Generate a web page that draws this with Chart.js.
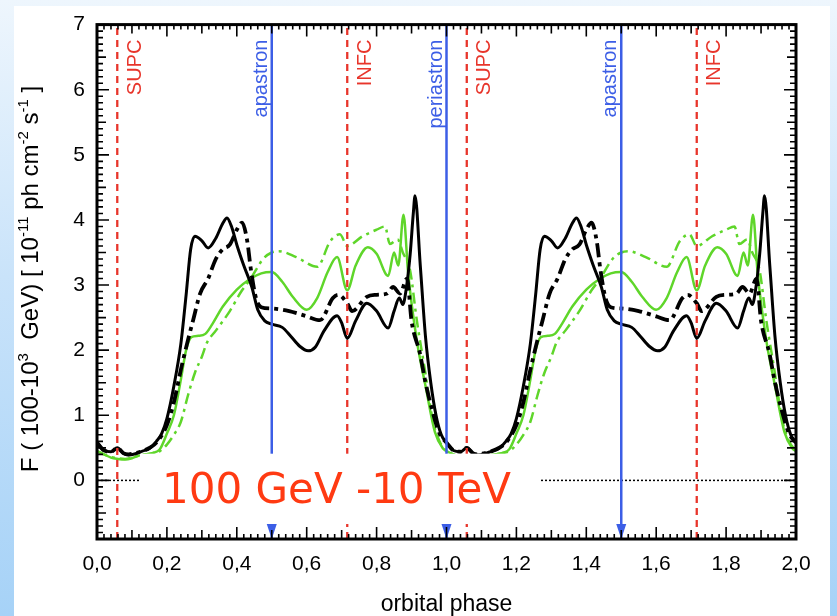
<!DOCTYPE html>
<html>
<head>
<meta charset="utf-8">
<script src="https://cdn.jsdelivr.net/npm/chart.js@4.4.1/dist/chart.umd.min.js"></script>
<style>
  html, body { margin: 0; padding: 0; }
  body { width: 837px; height: 616px; overflow: hidden; position: relative;
         background: linear-gradient(to bottom, #eef6fd 0%, #c9e3fa 45%, #a6d2f7 100%); }
  #panel { position: absolute; left: 14px; top: 6px; width: 816px; height: 610px; background: #fff; }
  #c { position: absolute; left: 0; top: 0; }
</style>
</head>
<body>
<div id="panel"></div>
<canvas id="c" width="837" height="616"></canvas>
<script>
// one orbit, [phase, flux in 1e-11 ph cm-2 s-1]; the plot shows it twice (0-2)
const blackSolid = [[0.00,0.58],[0.02,0.46],[0.04,0.44],[0.058,0.50],[0.075,0.42],[0.09,0.39],[0.11,0.41],[0.13,0.45],[0.15,0.49],[0.17,0.60],[0.185,0.72],[0.20,0.95],[0.22,1.45],[0.24,2.1],[0.255,2.85],[0.268,3.55],[0.28,3.75],[0.30,3.68],[0.318,3.57],[0.34,3.72],[0.36,3.95],[0.372,4.03],[0.386,3.88],[0.40,3.62],[0.42,3.3],[0.443,2.97],[0.46,2.62],[0.48,2.45],[0.50,2.40],[0.53,2.35],[0.555,2.21],[0.58,2.06],[0.604,1.99],[0.625,2.05],[0.65,2.3],[0.687,2.53],[0.70,2.42],[0.716,2.18],[0.74,2.45],[0.772,2.72],[0.80,2.6],[0.833,2.34],[0.85,2.6],[0.865,2.8],[0.875,2.7],[0.885,2.95],[0.896,3.47],[0.905,4.1],[0.91,4.37],[0.925,3.3],[0.94,2.2],[0.955,1.5],[0.97,1.0],[0.985,0.7],[1.0,0.58]];
const blackDashDot = [[0.00,0.58],[0.02,0.46],[0.04,0.44],[0.058,0.50],[0.075,0.42],[0.09,0.40],[0.11,0.42],[0.13,0.45],[0.15,0.50],[0.17,0.58],[0.20,0.85],[0.22,1.2],[0.24,1.7],[0.26,2.15],[0.275,2.46],[0.295,2.87],[0.318,3.1],[0.34,3.4],[0.36,3.55],[0.38,3.62],[0.40,3.85],[0.415,3.96],[0.43,3.67],[0.44,3.25],[0.455,2.8],[0.47,2.66],[0.50,2.64],[0.55,2.60],[0.60,2.52],[0.638,2.46],[0.675,2.8],[0.69,2.85],[0.716,2.72],[0.73,2.6],[0.772,2.82],[0.80,2.85],[0.83,2.87],[0.847,2.97],[0.867,2.87],[0.887,3.1],[0.90,2.45],[0.924,1.95],[0.94,1.5],[0.958,1.1],[0.98,0.72],[1.0,0.58]];
const greenSolid = [[0.00,0.45],[0.02,0.40],[0.04,0.35],[0.06,0.33],[0.08,0.32],[0.10,0.34],[0.12,0.38],[0.14,0.40],[0.16,0.42],[0.18,0.48],[0.20,0.72],[0.22,1.0],[0.24,1.55],[0.255,2.0],[0.27,2.2],[0.29,2.22],[0.31,2.25],[0.33,2.4],[0.36,2.67],[0.40,2.93],[0.44,3.1],[0.47,3.18],[0.50,3.2],[0.53,3.05],[0.56,2.82],[0.60,2.62],[0.63,2.8],[0.66,3.2],[0.687,3.43],[0.716,2.92],[0.74,3.3],[0.775,3.58],[0.80,3.48],[0.833,3.14],[0.85,3.5],[0.862,3.3],[0.877,4.08],[0.89,3.2],[0.915,2.15],[0.94,1.45],[0.967,0.74],[0.99,0.49],[1.0,0.45]];
const greenDashDot = [[0.00,0.45],[0.02,0.40],[0.04,0.36],[0.06,0.34],[0.08,0.33],[0.10,0.35],[0.12,0.38],[0.14,0.40],[0.16,0.42],[0.18,0.45],[0.20,0.55],[0.22,0.7],[0.24,0.9],[0.26,1.3],[0.28,1.65],[0.30,1.9],[0.315,2.12],[0.34,2.3],[0.38,2.6],[0.415,2.92],[0.44,3.1],[0.475,3.4],[0.50,3.5],[0.52,3.52],[0.57,3.43],[0.63,3.28],[0.667,3.67],[0.695,3.78],[0.716,3.6],[0.76,3.75],[0.80,3.85],[0.824,3.9],[0.838,3.63],[0.86,3.7],[0.875,3.5],[0.896,3.22],[0.915,2.46],[0.938,1.7],[0.96,0.94],[0.98,0.6],[1.0,0.45]];

// orbit markers (phase)
const supcPhases = [0.058, 1.058];
const infcPhases = [0.716, 1.716];
const apastronPhases = [0.5, 1.5];
const periastronPhases = [1.0];

// axes
const xTickValues = [0, 0.2, 0.4, 0.6, 0.8, 1.0, 1.2, 1.4, 1.6, 1.8, 2.0];
const xTickLabels = ['0,0', '0,2', '0,4', '0,6', '0,8', '1,0', '1,2', '1,4', '1,6', '1,8', '2,0'];
const yTickValues = [0, 1, 2, 3, 4, 5, 6, 7];
const yTickLabels = ['0', '1', '2', '3', '4', '5', '6', '7'];

const RED = '#e8352b', BLUE = '#3c5ee6', GREEN = '#5fd62a';
const FONT = '"Liberation Sans", Arial, Helvetica, sans-serif';

function twoOrbits(pts) {
    const out = pts.map(p => ({ x: p[0], y: p[1] }));
    pts.slice(1).forEach(p => out.push({ x: p[0] + 1, y: p[1] }));
    return out;
}
function vline(p, color, dash, w) {
    return { data: [{ x: p, y: -0.9 }, { x: p, y: 7 }], borderColor: color, borderDash: dash, borderWidth: w, pointRadius: 0, order: 0 };
}

const curve = (pts, color, w, dash, order) => ({
    data: twoOrbits(pts), borderColor: color, borderWidth: w, borderDash: dash,
    pointRadius: 0, cubicInterpolationMode: 'monotone', order
});

const datasets = [
    { data: [{ x: 0, y: 0 }, { x: 2, y: 0 }], borderColor: '#000', borderWidth: 1.5, borderDash: [2, 2], pointRadius: 0, order: 9 },
    curve(greenDashDot, GREEN, 2.5, [11, 5, 3, 5], 5),
    curve(greenSolid, GREEN, 2.5, [], 4),
    curve(blackDashDot, '#000', 3.8, [14, 5, 4, 5], 3),
    curve(blackSolid, '#000', 3, [], 2),
    ...supcPhases.map(p => vline(p, RED, [7, 5], 2.3)),
    ...infcPhases.map(p => vline(p, RED, [7, 5], 2.3)),
    ...apastronPhases.map(p => vline(p, BLUE, [], 2.5)),
    ...periastronPhases.map(p => vline(p, BLUE, [], 2.5))
];

const overlay = {
    id: 'overlay',
    afterDatasetsDraw(chart) {
        const { ctx, chartArea: a, scales: { x, y } } = chart;
        ctx.save();
        // band label box
        const bx0 = x.getPixelForValue(0.123), bx1 = x.getPixelForValue(1.267);
        const by0 = y.getPixelForValue(0.41), by1 = y.getPixelForValue(-0.67);
        ctx.fillStyle = '#fff';
        ctx.fillRect(bx0, by0, bx1 - bx0, by1 - by0);
        ctx.fillStyle = '#ff3a12';
        ctx.font = '42px "DejaVu Sans", Verdana, sans-serif';
        ctx.textBaseline = 'alphabetic';
        ctx.fillText('100 GeV -10 TeV', x.getPixelForValue(0.186), y.getPixelForValue(-0.35));
        // arrow heads
        ctx.fillStyle = BLUE;
        [...apastronPhases, ...periastronPhases].forEach(p => {
            const px = x.getPixelForValue(p);
            ctx.beginPath();
            ctx.moveTo(px - 5, a.bottom - 15);
            ctx.lineTo(px + 5, a.bottom - 15);
            ctx.lineTo(px, a.bottom);
            ctx.closePath();
            ctx.fill();
        });
        ctx.restore();
    },
    afterDraw(chart) {
        const { ctx, chartArea: a, scales: { x, y } } = chart;
        ctx.save();
        // ticks, inward, all four sides
        ctx.strokeStyle = '#000';
        ctx.lineWidth = 1.6;
        ctx.beginPath();
        for (let i = 0; i <= 100; i++) {
            const px = x.getPixelForValue(i * 0.02);
            const len = i % 10 === 0 ? 12 : (i % 5 === 0 ? 9 : 5);
            ctx.moveTo(px, a.bottom); ctx.lineTo(px, a.bottom - len);
            ctx.moveTo(px, a.top); ctx.lineTo(px, a.top + len);
        }
        for (let i = -9; i <= 70; i++) {
            const py = y.getPixelForValue(i / 10);
            const len = i % 10 === 0 ? 12 : (i % 5 === 0 ? 9 : 6);
            ctx.moveTo(a.left, py); ctx.lineTo(a.left + len, py);
            ctx.moveTo(a.right, py); ctx.lineTo(a.right - len, py);
        }
        ctx.stroke();
        ctx.lineWidth = 3;
        ctx.strokeRect(a.left, a.top, a.right - a.left, a.bottom - a.top);

        // marker labels
        ctx.font = '20px ' + FONT;
        const label = (p, txt, color, right) => {
            const px = x.getPixelForValue(p);
            ctx.save();
            ctx.translate(right ? px + 8 : px - 5, a.top + 15);
            ctx.rotate(-Math.PI / 2);
            ctx.fillStyle = color;
            ctx.textAlign = 'right';
            ctx.textBaseline = right ? 'top' : 'alphabetic';
            ctx.fillText(txt, 0, 0);
            ctx.restore();
        };
        supcPhases.forEach(p => label(p, 'SUPC', RED, true));
        infcPhases.forEach(p => label(p, 'INFC', RED, true));
        apastronPhases.forEach(p => label(p, 'apastron', BLUE, false));
        periastronPhases.forEach(p => label(p, 'periastron', BLUE, false));

        // axis titles
        ctx.fillStyle = '#000';
        ctx.font = '23px ' + FONT;
        ctx.textAlign = 'center';
        ctx.textBaseline = 'alphabetic';
        ctx.fillText('orbital phase', (a.left + a.right) / 2, 611);

        const parts = [['F ( 100-10', 0], ['3', 1], ['  GeV) [ 10', 0], ['-11', 1], [' ph cm', 0], ['-2', 1], [' s', 0], ['-1', 1], [' ]', 0]];
        const fN = '24px ' + FONT, fS = '15px ' + FONT;
        let total = 0;
        parts.forEach(([t, s]) => { ctx.font = s ? fS : fN; total += ctx.measureText(t).width; });
        ctx.translate(38, 279);
        ctx.rotate(-Math.PI / 2);
        ctx.textAlign = 'left';
        let cx = -total / 2;
        parts.forEach(([t, s]) => {
            ctx.font = s ? fS : fN;
            ctx.fillText(t, cx, s ? -10 : 0);
            cx += ctx.measureText(t).width;
        });
        ctx.restore();
    }
};

new Chart(document.getElementById('c'), {
    type: 'line',
    data: { datasets },
    options: {
        responsive: false,
        animation: false,
        layout: { padding: { left: 0, top: 18, right: 41, bottom: 0 } },
        plugins: { legend: { display: false }, tooltip: { enabled: false } },
        scales: {
            x: {
                type: 'linear', min: 0, max: 2,
                grid: { display: false, drawTicks: false }, border: { display: false },
                afterBuildTicks: s => { s.ticks = xTickValues.map(v => ({ value: v })); },
                afterFit: s => { s.height = 77; },
                ticks: { autoSkip: false, maxRotation: 0, padding: 13, color: '#000',
                         font: { family: FONT, size: 21 }, callback: (v, i) => xTickLabels[i] }
            },
            y: {
                type: 'linear', min: -0.9, max: 7,
                grid: { display: false, drawTicks: false }, border: { display: false },
                afterBuildTicks: s => { s.ticks = yTickValues.map(v => ({ value: v })); },
                afterFit: s => { s.width = 97; },
                ticks: { padding: 12, color: '#000', font: { family: FONT, size: 21 },
                         callback: (v, i) => yTickLabels[i] }
            }
        }
    },
    plugins: [overlay]
});
</script>
</body>
</html>
